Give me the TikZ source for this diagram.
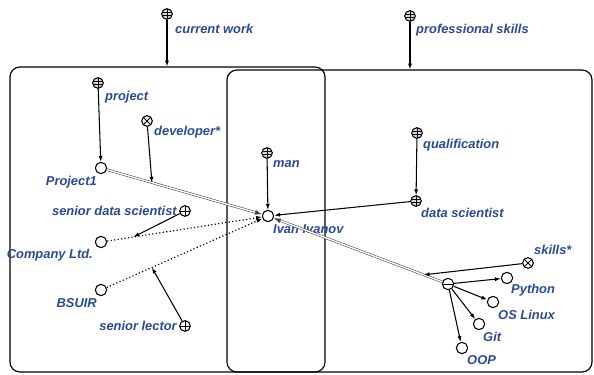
\documentclass[tikz,border=0pt]{standalone}
\usepackage{fontspec}
\setsansfont{Liberation Sans}
\usetikzlibrary{arrows.meta, positioning, calc}
\definecolor{lblue}{HTML}{2A4A96}

\tikzset{
  elem/.style={circle, draw, line width=0.9pt, minimum size=0.34cm, inner sep=0pt, fill=white},
  clsnode/.style={circle, draw, line width=0.9pt, minimum size=0.32cm, inner sep=0pt, fill=gray!30,
    path picture={
      \draw[line width=0.6pt] (path picture bounding box.north) -- (path picture bounding box.south);
      \foreach \d in {-0.05,0.05}
        \draw[line width=0.6pt] ([yshift=\d cm]path picture bounding box.west) -- ([yshift=\d cm]path picture bounding box.east);
    }},
  relnode/.style={circle, draw, line width=0.9pt, minimum size=0.32cm, inner sep=0pt, fill=white,
    path picture={
      \draw[line width=0.7pt] (path picture bounding box.north) -- (path picture bounding box.south)
        (path picture bounding box.west) -- (path picture bounding box.east);
    }},
  norole/.style={circle, draw, line width=0.9pt, minimum size=0.32cm, inner sep=0pt, fill=white,
    path picture={
      \draw[line width=0.7pt] (path picture bounding box.north west) -- (path picture bounding box.south east)
        (path picture bounding box.south west) -- (path picture bounding box.north east);
    }},
  setnode/.style={circle, draw, line width=0.9pt, minimum size=0.34cm, inner sep=0pt, fill=white,
    path picture={
      \draw[line width=0.7pt] (path picture bounding box.west) -- (path picture bounding box.east);
    }},
  lbl/.style={font=\sffamily\bfseries\itshape\fontsize{11}{13}\selectfont, text=lblue, inner sep=0pt},
  contour/.style={draw, line width=1pt, rounded corners=0.3cm, inner sep=0pt},
  arc/.style={-{Latex[length=5pt,width=3.5pt]}, line width=0.9pt},
  memb/.style={double=white, double distance=1.2pt, line width=0.45pt, draw=black!75, -{Latex[length=6pt,width=4pt]}},
  dotarc/.style={dotted, line width=1pt, -{Latex[length=5pt,width=3.5pt]}}
}

\begin{document}
\begin{tikzpicture}[x=0.03cm, y=-0.03cm]
\useasboundingbox (0,0) rectangle (594,375);
% contours
\node[contour, minimum width=9.45cm, minimum height=9.15cm] (workbox) at (167.5,219.5) {};
\node[contour, minimum width=10.95cm, minimum height=9.06cm] (skillbox) at (409.5,221) {};
% nodes
\node[clsnode] (curwork) at (167,14) {};
\node[clsnode] (profskills) at (410,16) {};
\node[clsnode] (project) at (98,83) {};
\node[norole] (developer) at (147,121) {};
\node[elem] (proj1) at (101,168) {};
\node[clsnode] (man) at (267,153) {};
\node[elem] (ivan) at (268,216) {};
\node[clsnode] (qualif) at (417,133) {};
\node[clsnode] (datasci) at (416,201) {};
\node[relnode] (seniords) at (185,211) {};
\node[elem] (company) at (101,242) {};
\node[elem] (bsuir) at (101,290) {};
\node[relnode] (lector) at (185,326) {};
\node[setnode] (skillset) at (448,284) {};
\node[norole] (skills) at (528,263) {};
\node[elem] (python) at (507,278) {};
\node[elem] (oslinux) at (493,302) {};
\node[elem] (git) at (479,324) {};
\node[elem] (oop) at (462,348) {};
% labels
\node[lbl, anchor=west] (curworkl) at (175,29) {current work};
\node[lbl, anchor=west] (profskillsl) at (416,30) {professional skills};
\node[lbl, anchor=west] (projectl) at (105,97) {project};
\node[lbl, anchor=west] (developerl) at (154,132) {developer*};
\node[lbl, anchor=east] (proj1l) at (97,182) {Project1};
\node[lbl, anchor=west] (manl) at (273,164) {man};
\node[lbl, anchor=west] (ivanl) at (273,229) {Ivan Ivanov};
\node[lbl, anchor=west] (qualifl) at (423,145) {qualification};
\node[lbl, anchor=west] (datascil) at (421,213) {data scientist};
\node[lbl, anchor=east] (seniordsl) at (177,211) {senior data scientist};
\node[lbl, anchor=east] (companyl) at (93,255) {Company Ltd.};
\node[lbl, anchor=east] (bsuirl) at (97,303) {BSUIR};
\node[lbl, anchor=east] (lectorl) at (177,326) {senior lector};
\node[lbl, anchor=west] (skillsl) at (534,250) {skills*};
\node[lbl, anchor=west] (pythonl) at (511,290) {Python};
\node[lbl, anchor=west] (oslinuxl) at (498,315) {OS Linux};
\node[lbl, anchor=west] (gitl) at (483,337) {Git};
\node[lbl, anchor=west] (oopl) at (467,360) {OOP};
% arcs into contours
\draw[arc] (curwork) -- (curwork |- workbox.north);
\draw[arc] (profskills) -- (profskills |- skillbox.north);
% membership and relation arcs
\draw[memb] (proj1) -- (ivan) coordinate[pos=0.29] (devpt);
\draw[dotarc] (company) -- (ivan) coordinate[pos=0.17] (sdspt);
\draw[dotarc] (bsuir) -- (ivan) coordinate[pos=0.29] (lectpt);
\draw[memb] (skillset) -- (ivan) coordinate[pos=0.11] (skillpt);
\draw[arc] (project) -- (proj1);
\draw[arc] (developer) -- (devpt);
\draw[arc] (man) -- (ivan);
\draw[arc] (qualif) -- (datasci);
\draw[arc] (datasci) -- (ivan);
\draw[arc] (seniords) -- (sdspt);
\draw[arc] (lector) -- (lectpt);
\draw[arc] (skills) -- (skillpt);
\draw[arc] (skillset) -- (python);
\draw[arc] (skillset) -- (oslinux);
\draw[arc] (skillset) -- (git);
\draw[arc] (skillset) -- (oop);
\end{tikzpicture}
\end{document}
